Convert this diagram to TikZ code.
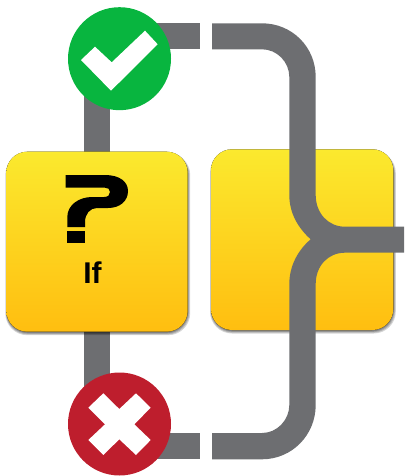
\documentclass[tikz,border=0pt]{standalone}
\usepackage{fontspec}
\setmainfont{Liberation Sans}
\definecolor{wire}{HTML}{6D6E71}
\definecolor{boxtop}{HTML}{FBE92E}
\definecolor{boxbot}{HTML}{FFBE10}
\definecolor{okgreen}{HTML}{08B53F}
\definecolor{nored}{HTML}{BE1E2D}
\tikzset{x=1pt,y=-1pt,
  wirefill/.style={fill=wire,draw=none},
  yellowbox/.style={rounded corners=21pt,top color=boxtop,bottom color=boxbot,draw=none},
  boxshadow/.style={rounded corners=22pt,fill=black,fill opacity=0.16,draw=none},
  badge/.style={circle,minimum size=103pt,inner sep=0pt,draw=none},
  glyph/.style={fill=white,draw=none}}
\begin{document}
\begin{tikzpicture}
\useasboundingbox (0,0) rectangle (404,476);
% left wires
\fill[wirefill] (84,80) rectangle (109.7,400);
\fill[wirefill] (150,23.3) rectangle (200,49.3);
\fill[wirefill] (150,433) rectangle (200,459.3);
% left box
\fill[boxshadow] (5.3,153) rectangle (190.2,335.2);
\fill[boxshadow] (5.8,153) rectangle (189.4,334.4);
\fill[boxshadow] (6,153) rectangle (188.7,333.6);
\fill[boxshadow] (6.3,153) rectangle (188.2,332.9);
\fill[yellowbox] (6.3,151.7) rectangle (187.7,331.7);
% right box
\fill[boxshadow] (210,151) rectangle (395.8,333.5);
\fill[boxshadow] (210.5,151) rectangle (395,332.7);
\fill[boxshadow] (210.8,151) rectangle (394.3,331.9);
\fill[boxshadow] (211,151) rectangle (393.8,331.2);
\fill[yellowbox] (211,149.3) rectangle (393.3,330);
% badges
\node[badge,fill=okgreen] (ok) at (119.5,58.7) {};
\node[badge,fill=nored] (no) at (119.5,424) {};
\fill[glyph] (81,60) -- (95,46.7) -- (111.7,62.3) -- (145,30.7) -- (157.7,44.3) -- (111,90.7) -- cycle;
\fill[glyph] (88.3,407.7) -- (103.3,393.3) -- (119.3,409) -- (136,393.3) -- (150.7,407.7) -- (134.3,424.3) -- (150.7,440) -- (136,455) -- (119.3,439.3) -- (103.3,455) -- (88.3,440) -- (105,424.3) -- cycle;
% merge wire
\fill[wirefill] (212,23.3) -- (262,23.3) .. controls (292,23.3) and (315.7,47) .. (315.7,77) -- (315.7,195)
  .. controls (315.7,213) and (328,226.7) .. (345,226.7) -- (404,226.7) -- (404,252.7) -- (345,252.7)
  .. controls (328,252.7) and (315.7,266) .. (315.7,284) -- (315.7,405)
  .. controls (315.7,435) and (292,459.3) .. (262,459.3) -- (212,459.3) -- (212,433) -- (262,433)
  .. controls (277,433) and (289.3,420) .. (289.3,405) -- (289.3,284)
  .. controls (289.3,266) and (298,250) .. (310.7,239.3)
  .. controls (298,228) and (289.3,213) .. (289.3,195) -- (289.3,77)
  .. controls (289.3,62) and (277,49.3) .. (262,49.3) -- (212,49.3) -- cycle;
% question mark
\fill[black] (65.7,175) -- (105,175) .. controls (120,175) and (128,182) .. (128,191)
  .. controls (128,201) and (120,208) .. (108,208) -- (97,208)
  .. controls (90,208) and (85,214) .. (85,222) -- (85,227) -- (67.3,227) -- (67.3,217)
  .. controls (67.3,205) and (79,197) .. (92,197) -- (104,197)
  .. controls (108,197) and (110,195) .. (110,192) .. controls (110,189) and (108,187.7) .. (105,187.7)
  -- (65.7,187.7) -- cycle;
\fill[black] (67.3,230.7) rectangle (85,242.7);
\node[font=\bfseries,scale=3] (lbl) at (92.5,273) {If};
\end{tikzpicture}
\end{document}
